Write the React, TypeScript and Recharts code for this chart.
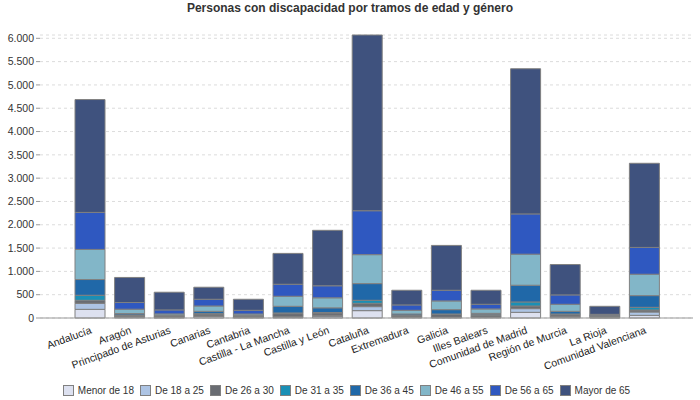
import { BarChart, Bar, XAxis, YAxis, CartesianGrid, Legend } from "recharts";

const regions = [
  "Andalucía",
  "Aragón",
  "Principado de Asturias",
  "Canarias",
  "Cantabria",
  "Castilla - La Mancha",
  "Castilla y León",
  "Cataluña",
  "Extremadura",
  "Galicia",
  "Illes Balears",
  "Comunidad de Madrid",
  "Región de Murcia",
  "La Rioja",
  "Comunidad Valenciana",
];

const menor18 = [186, 15, 8, 29, 8, 15, 29, 158, 10, 8, 12, 122, 15, 5, 57];
const de18a25 = [129, 15, 10, 14, 8, 14, 28, 86, 12, 8, 10, 79, 20, 5, 72];
const de26a30 = [65, 25, 25, 43, 25, 65, 51, 71, 25, 60, 35, 57, 36, 30, 43];
const de31a35 = [108, 12, 5, 7, 5, 14, 10, 65, 10, 10, 15, 86, 15, 2, 57];
const de36a45 = [337, 28, 10, 50, 11, 143, 100, 358, 29, 93, 28, 359, 57, 8, 251];
const de46a55 = [646, 94, 29, 115, 29, 215, 215, 621, 79, 187, 94, 666, 151, 7, 459];
const de56a65 = [794, 143, 86, 144, 79, 258, 258, 942, 115, 229, 100, 864, 201, 22, 575];
const mayor65 = [2421, 538, 380, 258, 237, 662, 1190, 3770, 315, 962, 301, 3114, 652, 172, 1805];

const yTicks = [0, 500, 1000, 1500, 2000, 2500, 3000, 3500, 4000, 4500, 5000, 5500, 6000];

const series = [
  { key: "menor18", name: "Menor de 18", color: "#dde1f0", values: menor18 },
  { key: "de18a25", name: "De 18 a 25", color: "#adc4e4", values: de18a25 },
  { key: "de26a30", name: "De 26 a 30", color: "#696c72", values: de26a30 },
  { key: "de31a35", name: "De 31 a 35", color: "#1a8fb5", values: de31a35 },
  { key: "de36a45", name: "De 36 a 45", color: "#2068a8", values: de36a45 },
  { key: "de46a55", name: "De 46 a 55", color: "#82b6c8", values: de46a55 },
  { key: "de56a65", name: "De 56 a 65", color: "#2f58c0", values: de56a65 },
  { key: "mayor65", name: "Mayor de 65", color: "#3f527e", values: mayor65 },
];

const data = regions.map((name, i) => {
  const row: Record<string, string | number> = { name };
  series.forEach((s) => {
    row[s.key] = s.values[i];
  });
  return row;
});

const FONT = '"Liberation Sans", Arial, sans-serif';

const fmt = (v: number) => String(v).replace(/\B(?=(\d{3})+(?!\d))/g, ".");

function LegendBox() {
  return (
    <div
      style={{
        display: "flex",
        justifyContent: "center",
        alignItems: "center",
        height: 20,
        fontFamily: FONT,
        fontSize: 10,
        color: "#333",
        paddingLeft: 6,
      }}
    >
      {series.map((s) => (
        <div key={s.key} style={{ display: "flex", alignItems: "center", marginRight: 6 }}>
          <span
            style={{
              display: "inline-block",
              width: 9,
              height: 9,
              background: s.color,
              border: "1px solid #808080",
              marginRight: 4,
            }}
          />
          <span>{s.name}</span>
        </div>
      ))}
    </div>
  );
}

export default function App() {
  return (
    <div style={{ position: "fixed", left: 0, top: 0, width: 700, height: 400, background: "#fff" }}>
      <div
        style={{
          position: "absolute",
          top: 1,
          left: 0,
          width: 700,
          textAlign: "center",
          fontFamily: FONT,
          fontWeight: "bold",
          fontSize: 12,
          color: "#333",
        }}
      >
        Personas con discapacidad por tramos de edad y género
      </div>
      <BarChart
        width={700}
        height={400}
        data={data}
        margin={{ top: 35, right: 7, left: 0, bottom: 0 }}
        barSize={30}
      >
        <CartesianGrid vertical={false} stroke="#dcdcdc" strokeDasharray="3 3" />
        <XAxis
          dataKey="name"
          interval={0}
          height={62}
          padding={{ left: 30, right: 29 }}
          axisLine={{ stroke: "#999" }}
          tickLine={false}
          angle={-20}
          textAnchor="end"
          tick={{ fontSize: 10.5, fill: "#222", fontFamily: FONT }}
        />
        <YAxis
          width={40}
          domain={[0, 6000]}
          ticks={yTicks}
          axisLine={false}
          tickSize={4}
          tickLine={{ stroke: "#999" }}
          tickFormatter={fmt}
          tick={{ fontSize: 10.5, fill: "#333", fontFamily: FONT }}
        />
        <Legend verticalAlign="bottom" content={() => <LegendBox />} />
        {series.map((s) => (
          <Bar
            key={s.key}
            dataKey={s.key}
            name={s.name}
            stackId="a"
            fill={s.color}
            stroke="#808080"
            strokeWidth={1}
            isAnimationActive={false}
          />
        ))}
      </BarChart>
    </div>
  );
}
